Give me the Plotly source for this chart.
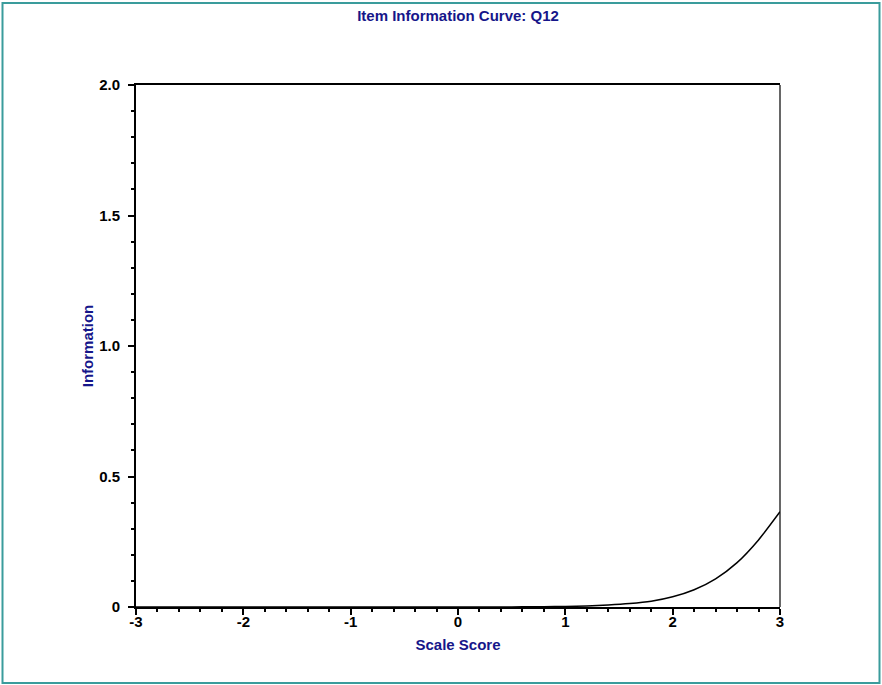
import plotly.graph_objects as go

# Item information for Q12 across the scale score range
scale_score = [-3.0, -2.8, -2.6, -2.4, -2.2, -2.0, -1.8, -1.6, -1.4, -1.2,
               -1.0, -0.8, -0.6, -0.4, -0.2, 0.0, 0.2, 0.4, 0.6, 0.8,
               1.0, 1.2, 1.4, 1.6, 1.8, 2.0, 2.2, 2.4, 2.6, 2.8, 3.0]
information = [0.0, 0.0, 0.0, 0.0, 0.0, 0.0, 0.0, 0.0, 0.0, 0.0,
               0.0, 0.0, 0.0, 0.0, 0.0, 0.0001, 0.0002, 0.0003, 0.0006, 0.0012,
               0.0023, 0.0042, 0.0075, 0.013, 0.022, 0.039, 0.066, 0.108, 0.170, 0.257, 0.365]

x_ticks = [-3, -2, -1, 0, 1, 2, 3]
x_labels = ["-3", "-2", "-1", "0", "1", "2", "3"]
y_ticks = [0, 0.5, 1.0, 1.5, 2.0]
y_labels = ["0", "0.5", "1.0", "1.5", "2.0"]

navy = "#16168a"
font_family = "Liberation Sans, Arial, sans-serif"
tick_font = dict(family=font_family, size=15, color="black")


def bold(labels):
    return ["<b>%s</b>" % s for s in labels]


fig = go.Figure()
fig.add_trace(go.Scatter(
    x=scale_score, y=information, mode="lines",
    line=dict(color="black", width=1.5, shape="spline", smoothing=0.6),
    hoverinfo="x+y", showlegend=False,
))

fig.update_layout(
    width=882, height=685,
    margin=dict(l=136, r=102, t=85, b=78),
    paper_bgcolor="white", plot_bgcolor="white",
    font=dict(family=font_family, size=12, color="black"),
    title=dict(
        text="<b>Item Information Curve: Q12</b>",
        font=dict(family=font_family, size=15, color=navy),
        x=0.5, xref="paper", xanchor="center",
        y=1 - 16 / 685, yref="container", yanchor="middle",
    ),
    xaxis=dict(
        range=[-3, 3], tickmode="array", tickvals=x_ticks, ticktext=bold(x_labels),
        tickfont=tick_font, ticklabelstandoff=-6,
        showgrid=False, zeroline=False,
        showline=True, linecolor="black", linewidth=2, mirror=True,
        ticks="outside", ticklen=6, tickwidth=2, tickcolor="black",
        minor=dict(dtick=0.2, ticks="outside", ticklen=3, tickwidth=2,
                   tickcolor="black", showgrid=False),
        title=dict(text="<b>Scale Score</b>",
                   font=dict(family=font_family, size=15, color=navy),
                   standoff=10),
        fixedrange=True,
    ),
    yaxis=dict(
        range=[0, 2], tickmode="array", tickvals=y_ticks, ticktext=bold(y_labels),
        tickfont=tick_font, ticklabelstandoff=5,
        showgrid=False, zeroline=False,
        showline=True, linecolor="black", linewidth=2,
        ticks="outside", ticklen=6, tickwidth=2, tickcolor="black",
        minor=dict(dtick=0.1, ticks="outside", ticklen=3, tickwidth=2,
                   tickcolor="black", showgrid=False),
        title=dict(text="<b>Information</b>",
                   font=dict(family=font_family, size=15, color=navy),
                   standoff=2),
        fixedrange=True,
    ),
    shapes=[
        # right frame edge
        dict(type="line", xref="paper", yref="paper", x0=1, x1=1, y0=0, y1=1,
             line=dict(color="black", width=1.2)),
        # outer border around the whole chart
        dict(type="rect", xref="paper", yref="paper",
             x0=-133.5 / 644, x1=1 + 99.5 / 644,
             y0=-76 / 522, y1=1 + 82 / 522,
             line=dict(color="#3a9c9c", width=2)),
    ],
)

fig.write_html("out.html")
